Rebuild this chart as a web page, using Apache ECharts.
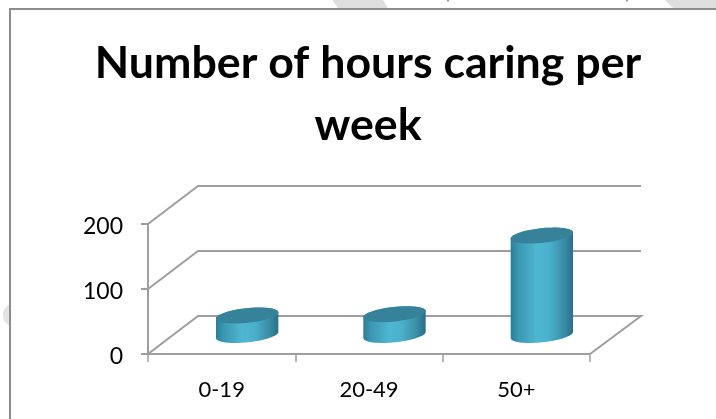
<!DOCTYPE html>
<html>
<head>
<meta charset="utf-8">
<style>html,body{margin:0;padding:0;background:#fff}#c{width:716px;height:419px}</style>
<script src="https://cdn.jsdelivr.net/npm/echarts@6/dist/echarts.min.js"></script>
</head>
<body>
<div id="c"></div>
<script>
var titleText = 'Number of hours caring per\nweek';
var categories = ['0-19', '20-49', '50+'];
var hours = [30, 32, 153];
var yTicks = [0, 100, 200];

var FONT = 'Lato, Carlito, sans-serif';
var AXIS = '#9e9e9e';
var DEPTH_X = 50, DEPTH_Y = 38, ROT = 6 * Math.PI / 180;

function ellipse(cx, cy, a, b, from, to) {
  var pts = [], n = 40;
  for (var i = 0; i <= n; i++) {
    var t = from + (to - from) * i / n;
    var ex = a * Math.cos(t), ey = b * Math.sin(t);
    pts.push([cx + ex * Math.cos(ROT) + ey * Math.sin(ROT),
              cy - ex * Math.sin(ROT) + ey * Math.cos(ROT)]);
  }
  return pts;
}

var chart = echarts.init(document.getElementById('c'), null, {renderer: 'canvas'});
chart.setOption({
  animation: false,
  backgroundColor: '#ffffff',
  title: {
    text: titleText, left: 363, top: 28, textAlign: 'center',
    textStyle: {fontFamily: FONT, fontWeight: 'bold', fontSize: 44.7, lineHeight: 62, color: '#000'}
  },
  grid: {left: 148, top: 224, width: 442, height: 130},
  xAxis: {
    type: 'category', data: categories,
    axisLine: {lineStyle: {color: AXIS, width: 2}},
    axisTick: {show: true, length: 8, lineStyle: {color: AXIS, width: 1.5}},
    axisLabel: {fontFamily: FONT, fontSize: 22, color: '#000', margin: 25}
  },
  yAxis: {
    type: 'value', min: 0, max: 200, interval: 100,
    axisLine: {show: true, lineStyle: {color: AXIS, width: 2}},
    axisTick: {show: true, length: 7, lineStyle: {color: AXIS, width: 2}},
    axisLabel: {fontFamily: FONT, fontSize: 23, color: '#000', margin: 25, verticalAlign: 'top', lineHeight: 6},
    splitLine: {show: false}
  },
  graphic: [
    {type: 'polygon', z: -10, silent: true, shape: {points: [[332, 0], [383, 0], [388, 8], [338, 8]]}, style: {fill: '#dedede'}},
    {type: 'polygon', z: -10, silent: true, shape: {points: [[665, 0], [716, 0], [716, 8], [673, 8]]}, style: {fill: '#dedede'}},
    {type: 'circle', z: -10, silent: true, shape: {cx: 15, cy: 315, r: 12}, style: {fill: '#e3e3e3'}},
    {type: 'rect', z: -9, silent: true, shape: {x: 10, y: 9, width: 706, height: 410}, style: {fill: '#ffffff'}},
    {type: 'line', z: -8, silent: true, shape: {x1: 10, y1: 9, x2: 10, y2: 419}, style: {stroke: '#8c8c8c', lineWidth: 2}},
    {type: 'line', z: -8, silent: true, shape: {x1: 9, y1: 9, x2: 716, y2: 9}, style: {stroke: '#8c8c8c', lineWidth: 2}},
    {type: 'line', z: -8, silent: true, shape: {x1: 448, y1: 0, x2: 448, y2: 1.5}, style: {stroke: '#777777', lineWidth: 1.5}},
    {type: 'line', z: -8, silent: true, shape: {x1: 627, y1: 0, x2: 627, y2: 1.5}, style: {stroke: '#777777', lineWidth: 1.5}}
  ],
  series: [
    {
      type: 'custom', silent: true, z: 1, clip: false,
      data: yTicks.map(function (v) { return [0, v]; }),
      renderItem: function (params, api) {
        var cs = params.coordSys;
        var y = api.coord([0, api.value(1)])[1];
        var x0 = cs.x, x1 = cs.x + cs.width;
        var pts = [[x0, y], [x0 + DEPTH_X, y - DEPTH_Y], [x1 + DEPTH_X + 1, y - DEPTH_Y]];
        if (api.value(1) === 0) pts.push([x1, y]);
        return {type: 'polyline', shape: {points: pts}, style: {fill: null, stroke: AXIS, lineWidth: 2}};
      }
    },
    {
      type: 'custom', silent: true, z: 3, clip: false,
      data: hours.map(function (v, i) { return [i, v]; }),
      renderItem: function (params, api) {
        var base = api.coord([api.value(0), 0]);
        var top = api.coord([api.value(0), api.value(1)]);
        var band = api.size([1, 0])[0];
        var a = band * 0.42 / 2 + 0.4, b = 7.3;
        var cx = base[0] + DEPTH_X / 2 + 0.5;
        var yb = base[1] - DEPTH_Y / 2, yt = top[1] - DEPTH_Y / 2;
        var body = ellipse(cx, yb, a, b, 0, Math.PI).concat(ellipse(cx, yt, a, b, Math.PI, 2 * Math.PI));
        var side = new echarts.graphic.LinearGradient(0, 0, 1, 0, [
          {offset: 0, color: '#2b7d97'},
          {offset: 0.12, color: '#3b97b2'},
          {offset: 0.42, color: '#4fb6d1'},
          {offset: 0.62, color: '#4bb0cc'},
          {offset: 0.85, color: '#3a8ea8'},
          {offset: 1, color: '#2a6f86'}
        ]);
        return {
          type: 'group',
          children: [
            {type: 'polygon', shape: {points: body}, style: {fill: side}},
            {type: 'polygon', shape: {points: ellipse(cx, yt, a, b, 0, 2 * Math.PI)}, style: {fill: '#37829b'}}
          ]
        };
      }
    }
  ]
});
</script>
</body>
</html>
